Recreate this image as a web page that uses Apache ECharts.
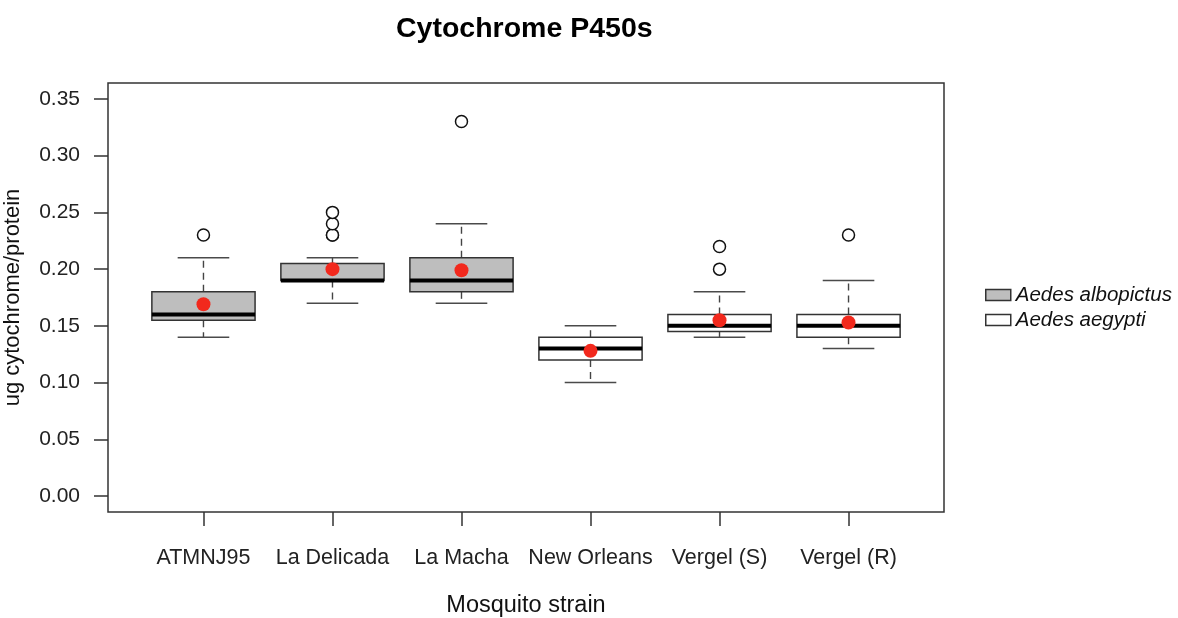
<!DOCTYPE html>
<html>
<head>
<meta charset="utf-8">
<title>Cytochrome P450s</title>
<script src="https://cdn.jsdelivr.net/npm/echarts@6/dist/echarts.min.js"></script>
<style>
  html, body { margin: 0; padding: 0; background: #ffffff; }
  #chart { width: 1178px; height: 618px; }
</style>
</head>
<body>
<div id="chart"></div>
<script>
// Mosquito strains and the species each belongs to
const strains = ['ATMNJ95', 'La Delicada', 'La Macha', 'New Orleans', 'Vergel (S)', 'Vergel (R)'];
const species = ['Aedes albopictus', 'Aedes albopictus', 'Aedes albopictus',
                 'Aedes aegypti', 'Aedes aegypti', 'Aedes aegypti'];

// Box statistics (ug cytochrome/protein)
const lowerWhisker = [0.14, 0.17, 0.17, 0.10, 0.14, 0.13];
const lowerQuartile = [0.155, 0.19, 0.18, 0.12, 0.145, 0.14];
const medians = [0.16, 0.19, 0.19, 0.13, 0.15, 0.15];
const upperQuartile = [0.18, 0.205, 0.21, 0.14, 0.16, 0.16];
const upperWhisker = [0.21, 0.21, 0.24, 0.15, 0.18, 0.19];
const means = [0.169, 0.200, 0.199, 0.128, 0.155, 0.153];

// Outlying measurements: [strain index, value]
const outliers = [
  [0, 0.23],
  [1, 0.23], [1, 0.23], [1, 0.24], [1, 0.25],
  [2, 0.33],
  [4, 0.20], [4, 0.22],
  [5, 0.23]
];

// Y axis tick values
const yTicks = [0, 0.05, 0.10, 0.15, 0.20, 0.25, 0.30, 0.35];

const speciesNames = ['Aedes albopictus', 'Aedes aegypti'];
const speciesFill = { 'Aedes albopictus': '#bebebe', 'Aedes aegypti': '#ffffff' };

const FONT = 'Liberation Sans, Arial, Helvetica, sans-serif';
const positions = strains.map((s, i) => i + 1);

function boxData(name) {
  const rows = [];
  strains.forEach((s, i) => {
    if (species[i] === name) {
      rows.push([positions[i], lowerWhisker[i], lowerQuartile[i], medians[i], upperQuartile[i], upperWhisker[i]]);
    }
  });
  return rows;
}

// Box with dashed whiskers, solid caps and a heavy median bar
function renderBox(params, api) {
  const x = api.value(0);
  const fill = api.visual('color');
  const px = api.coord([x, 0])[0];
  const halfBox = api.size([0.4, 0])[0];
  const halfCap = api.size([0.2, 0])[0];
  const y = (v) => api.coord([x, v])[1];
  const yLo = y(api.value(1)), yQ1 = y(api.value(2)), yMed = y(api.value(3));
  const yQ3 = y(api.value(4)), yHi = y(api.value(5));
  const whisker = { stroke: '#444', lineWidth: 1.4, lineDash: [7, 5] };
  const cap = { stroke: '#4a4a4a', lineWidth: 1.5 };
  return {
    type: 'group',
    children: [
      { type: 'line', shape: { x1: px, y1: yQ3, x2: px, y2: yHi }, style: whisker },
      { type: 'line', shape: { x1: px, y1: yQ1, x2: px, y2: yLo }, style: whisker },
      { type: 'line', shape: { x1: px - halfCap, y1: yHi, x2: px + halfCap, y2: yHi }, style: cap },
      { type: 'line', shape: { x1: px - halfCap, y1: yLo, x2: px + halfCap, y2: yLo }, style: cap },
      { type: 'rect', shape: { x: px - halfBox, y: yQ3, width: halfBox * 2, height: yQ1 - yQ3 },
        style: { fill: fill, stroke: '#333', lineWidth: 1.5 } },
      { type: 'line', shape: { x1: px - halfBox, y1: yMed, x2: px + halfBox, y2: yMed },
        style: { stroke: '#000', lineWidth: 4 } }
    ]
  };
}

const chart = echarts.init(document.getElementById('chart'), null, { renderer: 'canvas' });

const boxSeries = speciesNames.map((name) => ({
  name: name,
  type: 'custom',
  renderItem: renderBox,
  itemStyle: { color: speciesFill[name] },
  encode: { x: 0, y: [1, 2, 3, 4, 5] },
  data: boxData(name),
  z: 2
}));

chart.setOption({
  animation: false,
  textStyle: { fontFamily: FONT },
  graphic: [{
    type: 'text',
    left: 396,
    top: 15,
    style: { text: 'Cytochrome P450s', font: 'bold 28.5px ' + FONT, fill: '#000' }
  }],
  legend: {
    orient: 'vertical',
    left: 980,
    top: 280,
    itemWidth: 25,
    itemHeight: 11,
    itemGap: 5,
    selectedMode: false,
    textStyle: { fontSize: 20.5, fontStyle: 'italic', color: '#111', fontFamily: FONT },
    data: speciesNames.map((name) => ({
      name: name,
      icon: 'rect',
      itemStyle: { color: speciesFill[name], borderColor: '#333', borderWidth: 1.5 }
    }))
  },
  grid: {
    left: 108,
    right: 234,
    top: 83,
    bottom: 106,
    outerBoundsMode: 'none',
    containLabel: false,
    show: true,
    borderColor: '#333',
    borderWidth: 1.5,
    backgroundColor: 'transparent'
  },
  xAxis: {
    type: 'value',
    min: 0.26,
    max: 6.74,
    name: 'Mosquito strain',
    nameLocation: 'middle',
    nameGap: 82,
    nameTextStyle: { fontSize: 23.5, color: '#111', fontFamily: FONT },
    axisLine: { show: false, onZero: false },
    splitLine: { show: false },
    axisTick: { show: true, inside: false, length: 14, customValues: positions,
                lineStyle: { color: '#333', width: 1.5 } },
    axisLabel: {
      customValues: positions,
      margin: 35,
      fontSize: 21.5,
      color: '#222',
      fontFamily: FONT,
      formatter: (v) => strains[Math.round(v) - 1] || ''
    }
  },
  yAxis: {
    type: 'value',
    min: -0.014,
    max: 0.364,
    name: 'ug cytochrome/protein',
    nameLocation: 'middle',
    nameGap: 84,
    nameTextStyle: { fontSize: 22, color: '#111', fontFamily: FONT },
    axisLine: { show: false, onZero: false },
    splitLine: { show: false },
    axisTick: { show: true, inside: false, length: 14, customValues: yTicks,
                lineStyle: { color: '#333', width: 1.5 } },
    axisLabel: {
      customValues: yTicks,
      margin: 28,
      fontSize: 21,
      color: '#222',
      fontFamily: FONT,
      formatter: (v) => v.toFixed(2)
    }
  },
  series: [
    ...boxSeries,
    {
      name: 'outliers',
      type: 'scatter',
      symbol: 'circle',
      symbolSize: 12,
      itemStyle: { color: '#ffffff', borderColor: '#111', borderWidth: 1.5, opacity: 1 },
      data: outliers.map((o) => [positions[o[0]], o[1]]),
      z: 3
    },
    {
      name: 'means',
      type: 'scatter',
      symbol: 'circle',
      symbolSize: 14,
      itemStyle: { color: '#f2291d', opacity: 1 },
      data: means.map((m, i) => [positions[i], m]),
      z: 4
    }
  ]
});
</script>
</body>
</html>
